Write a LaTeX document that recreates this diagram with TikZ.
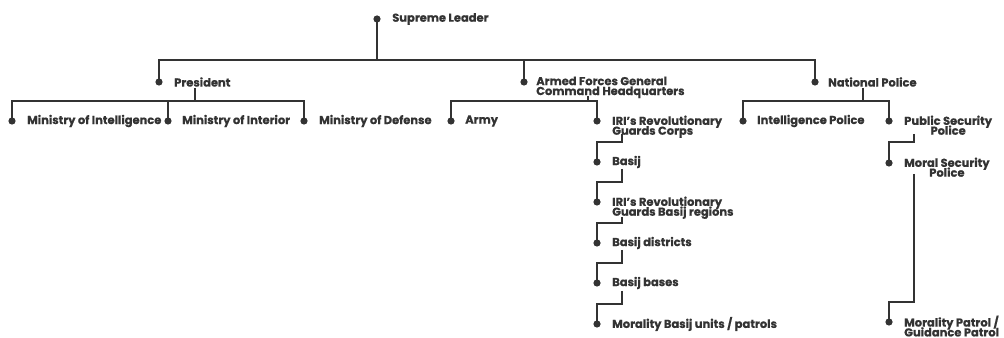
\documentclass[tikz,border=0pt]{standalone}
\usepackage{fontspec}
\newfontfamily\lblfont{Poppins}[BoldFeatures={FakeBold=0.6}]
\definecolor{ink}{HTML}{333333}
\newcommand\lblsetup{\lblfont\bfseries\fontsize{8.6}{7.4}\selectfont\lineskiplimit=-20pt\relax\lineskip=0pt\relax}
\begin{document}
\begin{tikzpicture}[x=0.75pt,y=-0.75pt,
  dot/.style={circle,fill=ink,inner sep=0pt,minimum size=5.4pt},
  lbl/.style={anchor=west,inner sep=0pt,text=ink,font=\lblsetup},
  lbltwo/.style={lbl,anchor=north west,yshift=4.2pt},
  conn/.style={draw=ink,line width=1.1pt}]
\useasboundingbox (0,0) rectangle (1004,338);
% dots
\node[dot] (sl) at (377,19) {};
\node[dot] (pres) at (159,82) {};
\node[dot] (afc) at (524,82) {};
\node[dot] (np) at (815,82) {};
\node[dot] (mi) at (12,121) {};
\node[dot] (mint) at (168,121) {};
\node[dot] (md) at (304,121) {};
\node[dot] (army) at (451,121) {};
\node[dot] (irgc) at (597,121) {};
\node[dot] (ip) at (743,121) {};
\node[dot] (psp) at (889,121) {};
\node[dot] (basij) at (597,162) {};
\node[dot] (reg) at (597,202) {};
\node[dot] (dist) at (597,243) {};
\node[dot] (bases) at (597,283) {};
\node[dot] (units) at (597,324) {};
\node[dot] (msp) at (889,163) {};
\node[dot] (mp) at (889,322) {};
% labels
\node[lbl] (tsl) at (392,19) {Supreme Leader};
\node[lbl] (tpres) at (174,82) {President};
\node[lbltwo,align=left] (tafc) at (536,82) {Armed Forces General\\Command Headquarters};
\node[lbl] (tnp) at (828,82) {National Police};
\node[lbl] (tmi) at (27,121) {Ministry of Intelligence};
\node[lbl] (tmint) at (182,121) {Ministry of Interior};
\node[lbl] (tmd) at (319,121) {Ministry of Defense};
\node[lbl] (tarmy) at (465,121) {Army};
\node[lbltwo,align=left] (tirgc) at (612,121) {IRI’s Revolutionary\\Guards Corps};
\node[lbl] (tip) at (757,121) {Intelligence Police};
\node[lbltwo,align=center] (tpsp) at (904,121) {Public Security\\Police};
\node[lbl] (tbasij) at (612,162) {Basij};
\node[lbltwo,align=left] (treg) at (612,202) {IRI’s Revolutionary\\Guards Basij regions};
\node[lbl] (tdist) at (612,243) {Basij districts};
\node[lbl] (tbases) at (612,283) {Basij bases};
\node[lbl] (tunits) at (612,324) {Morality Basij units / patrols};
\node[lbltwo,align=center] (tmsp) at (904,163) {Moral Security\\Police};
\node[lbltwo,align=left] (tmp) at (904,321) {Morality Patrol /\\Guidance Patrol};
% junction coordinates
\coordinate (j1) at (377,60);
\coordinate (p0) at (195,88);
\coordinate (j2) at (195,101);
\coordinate (a0) at (588,96);
\coordinate (j3) at (588,101);
\coordinate (n0) at (863,88);
\coordinate (j4) at (863,101);
\coordinate (g0) at (622,134);
\coordinate (g1) at (622,142);
\coordinate (b0) at (622,169);
\coordinate (b1) at (622,182);
\coordinate (r0) at (622,217);
\coordinate (r1) at (622,223);
\coordinate (d0) at (622,250);
\coordinate (d1) at (622,263);
\coordinate (s0) at (622,291);
\coordinate (s1) at (622,304);
\coordinate (q0) at (914,134);
\coordinate (q1) at (914,142);
\coordinate (m0) at (914,174);
\coordinate (m1) at (914,302);
% connectors
\draw[conn] (sl.center) -- (j1);
\draw[conn] (j1) -| (pres.center);
\draw[conn] (j1) -| (afc.center);
\draw[conn] (j1) -| (np.center);
\draw[conn] (p0) -- (j2);
\draw[conn] (j2) -| (mi.center);
\draw[conn] (j2) -| (mint.center);
\draw[conn] (j2) -| (md.center);
\draw[conn] (a0) -- (j3);
\draw[conn] (j3) -| (army.center);
\draw[conn] (j3) -| (irgc.center);
\draw[conn] (n0) -- (j4);
\draw[conn] (j4) -| (ip.center);
\draw[conn] (j4) -| (psp.center);
\draw[conn] (g0) -- (g1) -| (basij.center);
\draw[conn] (b0) -- (b1) -| (reg.center);
\draw[conn] (r0) -- (r1) -| (dist.center);
\draw[conn] (d0) -- (d1) -| (bases.center);
\draw[conn] (s0) -- (s1) -| (units.center);
\draw[conn] (q0) -- (q1) -| (msp.center);
\draw[conn] (m0) -- (m1) -| (mp.center);
\end{tikzpicture}
\end{document}
